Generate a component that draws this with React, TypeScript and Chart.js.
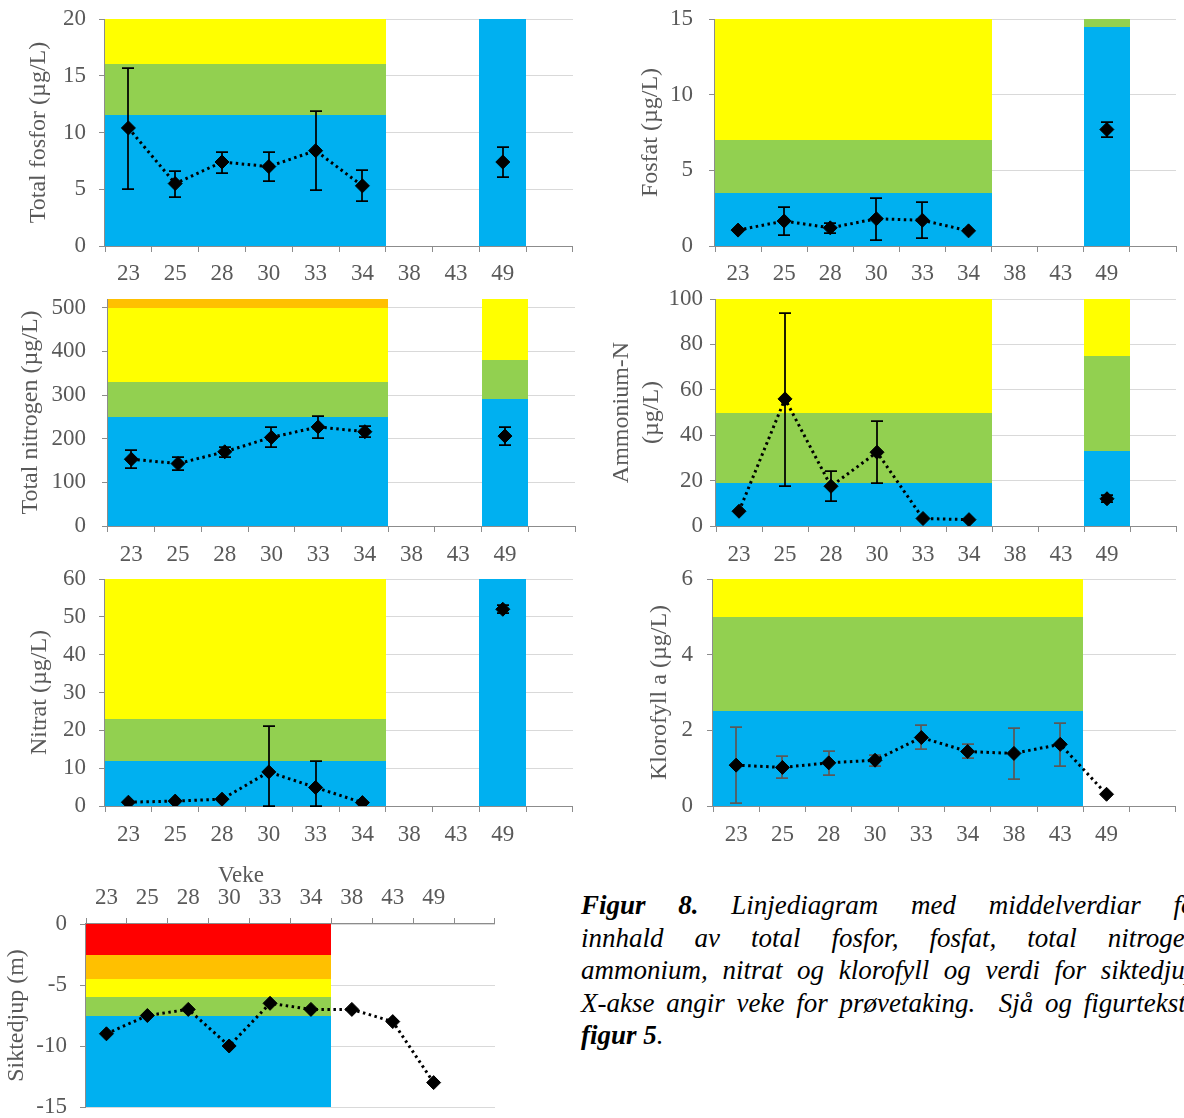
import React, { useEffect, useRef } from "react";
import { Chart, registerables } from "chart.js";

Chart.register(...registerables);

// ---------- data ----------
const weeks = ["23", "25", "28", "30", "33", "34", "38", "43", "49", ""];

const BLUE = "#00B0F0";
const GREEN = "#92D050";
const YELLOW = "#FFFF00";
const ORANGE = "#FFC000";
const RED = "#FF0000";

// Total fosfor (µg/L)
const totPMean = [10.4, 5.5, 7.4, 7.0, 8.4, 5.3, null, null, 7.4, null];
const totPLow = [5.0, 4.35, 6.4, 5.7, 4.9, 3.95, null, null, 6.1, null];
const totPHigh = [15.7, 6.6, 8.3, 8.25, 11.9, 6.7, null, null, 8.7, null];
const totPLimitsMain = [0, 11.5, 16, 20];
const totPLimitsW49 = [0, 20];

// Fosfat (µg/L)
const po4Mean = [1.05, 1.65, 1.2, 1.8, 1.7, 1.0, null, null, 7.7, null];
const po4Low = [null, 0.7, 0.85, 0.42, 0.5, null, null, null, 7.2, null];
const po4High = [null, 2.58, 1.55, 3.18, 2.92, null, null, null, 8.2, null];
const po4LimitsMain = [0, 3.5, 7, 15];
const po4LimitsW49 = [0, 14.5, 15];

// Total nitrogen (µg/L)
const totNMean = [153, 143, 170, 203, 227, 216, null, null, 206, null];
const totNLow = [133, 129, 159, 180, 201, 204, null, null, 186, null];
const totNHigh = [175, 159, 181, 227, 251, 228, null, null, 227, null];
const totNLimitsMain = [0, 250, 330, 500, 520];
const totNLimitsW49 = [0, 290, 380, 520];

// Ammonium-N (µg/L)
const nh4Mean = [6.5, 56, 17.5, 32.5, 3.3, 2.8, null, null, 12, null];
const nh4Low = [null, 17.7, 11, 19, null, null, null, null, 10.5, null];
const nh4High = [null, 94, 24.2, 46.2, null, null, null, null, 13.5, null];
const nh4LimitsMain = [0, 19, 50, 100];
const nh4LimitsW49 = [0, 33, 75, 100];

// Nitrat (µg/L)
const no3Mean = [1.0, 1.3, 1.8, 9.0, 4.9, 0.9, null, null, 52, null];
const no3Low = [null, null, null, 0, 0, null, null, null, 51, null];
const no3High = [null, null, null, 21.2, 11.9, null, null, null, 53, null];
const no3LimitsMain = [0, 12, 23, 60];
const no3LimitsW49 = [0, 60];

// Klorofyll a (µg/L)
const chlMean = [1.08, 1.02, 1.14, 1.21, 1.81, 1.44, 1.39, 1.63, 0.31, null];
const chlLow = [0.09, 0.74, 0.83, 1.07, 1.5, 1.26, 0.72, 1.06, null, null];
const chlHigh = [2.08, 1.33, 1.45, 1.36, 2.14, 1.63, 2.05, 2.2, null, null];
const chlLimits = [0, 2.5, 5, 6];

// Siktedjup (m)
const secchi = [-9, -7.5, -7, -10, -6.5, -7, -7, -8, -13, null];
const secchiLimits = [-15, -7.5, -6, -4.5, -2.5, 0];

// ---------- styling ----------
const FONT = "'Liberation Serif', 'Times New Roman', serif";
const TEXT = "#595959";
const AXIS = "#8C8C8C";
const GRID = "#D9D9D9";

type Band = { first: number; last: number; limits: number[]; colors: string[] };

type Spec = {
  id: string;
  box: { left: number; top: number; width: number; height: number };
  plot: { left: number; top: number; right: number; bottom: number };
  mean: (number | null)[];
  low: (number | null)[] | null;
  high: (number | null)[] | null;
  errColor: string;
  yMin: number;
  yMax: number;
  yStep: number;
  title: string | string[];
  titleCenter: number;
  titleLH: number;
  yLabelGap: number;
  xLabelGap: number;
  bands: Band[];
  xTop: boolean;
};

const specs: Spec[] = [
  {
    id: "totP",
    box: { left: 0, top: 0, width: 590, height: 290 },
    plot: { left: 105, top: 19, right: 573, bottom: 246 },
    mean: totPMean, low: totPLow, high: totPHigh, errColor: "#000",
    yMin: 0, yMax: 20, yStep: 5,
    title: "Total fosfor (µg/L)", titleCenter: 39, titleLH: 1.2,
    yLabelGap: 19, xLabelGap: 8,
    bands: [
      { first: 0, last: 5, limits: totPLimitsMain, colors: [BLUE, GREEN, YELLOW] },
      { first: 8, last: 8, limits: totPLimitsW49, colors: [BLUE] },
    ],
    xTop: false,
  },
  {
    id: "po4",
    box: { left: 590, top: 0, width: 594, height: 290 },
    plot: { left: 715, top: 19, right: 1182, bottom: 246 },
    mean: po4Mean, low: po4Low, high: po4High, errColor: "#000",
    yMin: 0, yMax: 15, yStep: 5,
    title: "Fosfat (µg/L)", titleCenter: 651, titleLH: 1.2,
    yLabelGap: 22, xLabelGap: 8,
    bands: [
      { first: 0, last: 5, limits: po4LimitsMain, colors: [BLUE, GREEN, YELLOW] },
      { first: 8, last: 8, limits: po4LimitsW49, colors: [BLUE, GREEN] },
    ],
    xTop: false,
  },
  {
    id: "totN",
    box: { left: 0, top: 290, width: 590, height: 280 },
    plot: { left: 108, top: 299, right: 575, bottom: 526 },
    mean: totNMean, low: totNLow, high: totNHigh, errColor: "#000",
    yMin: 0, yMax: 520, yStep: 100,
    title: "Total nitrogen (µg/L)", titleCenter: 31, titleLH: 1.2,
    yLabelGap: 22, xLabelGap: 9,
    bands: [
      { first: 0, last: 5, limits: totNLimitsMain, colors: [BLUE, GREEN, YELLOW, ORANGE] },
      { first: 8, last: 8, limits: totNLimitsW49, colors: [BLUE, GREEN, YELLOW] },
    ],
    xTop: false,
  },
  {
    id: "nh4",
    box: { left: 590, top: 290, width: 594, height: 280 },
    plot: { left: 716, top: 299, right: 1182, bottom: 526 },
    mean: nh4Mean, low: nh4Low, high: nh4High, errColor: "#000",
    yMin: 0, yMax: 100, yStep: 20,
    title: ["Ammonium-N", "(µg/L)"], titleCenter: 622, titleLH: 1.25,
    yLabelGap: 13, xLabelGap: 9,
    bands: [
      { first: 0, last: 5, limits: nh4LimitsMain, colors: [BLUE, GREEN, YELLOW] },
      { first: 8, last: 8, limits: nh4LimitsW49, colors: [BLUE, GREEN, YELLOW] },
    ],
    xTop: false,
  },
  {
    id: "no3",
    box: { left: 0, top: 570, width: 590, height: 280 },
    plot: { left: 105, top: 579, right: 573, bottom: 806 },
    mean: no3Mean, low: no3Low, high: no3High, errColor: "#000",
    yMin: 0, yMax: 60, yStep: 10,
    title: "Nitrat (µg/L)", titleCenter: 40, titleLH: 1.2,
    yLabelGap: 19, xLabelGap: 9,
    bands: [
      { first: 0, last: 5, limits: no3LimitsMain, colors: [BLUE, GREEN, YELLOW] },
      { first: 8, last: 8, limits: no3LimitsW49, colors: [BLUE] },
    ],
    xTop: false,
  },
  {
    id: "chl",
    box: { left: 590, top: 570, width: 594, height: 280 },
    plot: { left: 713, top: 579, right: 1180, bottom: 806 },
    mean: chlMean, low: chlLow, high: chlHigh, errColor: "#595959",
    yMin: 0, yMax: 6, yStep: 2,
    title: "Klorofyll a (µg/L)", titleCenter: 660, titleLH: 1.2,
    yLabelGap: 20, xLabelGap: 9,
    bands: [{ first: 0, last: 7, limits: chlLimits, colors: [BLUE, GREEN, YELLOW] }],
    xTop: false,
  },
  {
    id: "secchi",
    box: { left: 0, top: 850, width: 540, height: 290 },
    plot: { left: 86, top: 924, right: 495, bottom: 1107 },
    mean: secchi, low: null, high: null, errColor: "#000",
    yMin: -15, yMax: 0, yStep: 5,
    title: "Siktedjup (m)", titleCenter: 17, titleLH: 1.2,
    yLabelGap: 19, xLabelGap: 6,
    bands: [{ first: 0, last: 5, limits: secchiLimits, colors: [BLUE, GREEN, YELLOW, ORANGE, RED] }],
    xTop: true,
  },
];

function Panel({ spec }: { spec: Spec }) {
  const ref = useRef<HTMLCanvasElement | null>(null);
  const b = spec.box;

  useEffect(() => {
    const s = spec;
    const p = s.plot;
    const yW = p.left - b.left;
    const padRight = b.left + b.width - p.right;
    const padTop = s.xTop ? 0 : p.top - b.top;
    const padBottom = s.xTop ? b.top + b.height - p.bottom : 0;
    const xH = s.xTop ? p.top - b.top : b.top + b.height - p.bottom;
    const titleSize = 24;
    const tickSize = 23;

    const decor = {
      id: "decor",
      beforeDatasetsDraw(chart: any) {
        const { ctx, chartArea: a } = chart;
        const x = chart.scales.x;
        const y = chart.scales.y;
        const half = (x.getPixelForValue(1) - x.getPixelForValue(0)) / 2;
        ctx.save();
        for (const band of s.bands) {
          const x0 = Math.round(x.getPixelForValue(band.first) - half);
          const x1 = Math.round(x.getPixelForValue(band.last) + half);
          for (let i = 0; i < band.colors.length; i++) {
            const yb = Math.round(y.getPixelForValue(band.limits[i]));
            const yt = Math.round(y.getPixelForValue(band.limits[i + 1]));
            ctx.fillStyle = band.colors[i];
            ctx.fillRect(x0, yt, x1 - x0, yb - yt);
          }
        }
        // axis lines
        ctx.strokeStyle = AXIS;
        ctx.lineWidth = 1;
        ctx.beginPath();
        const lx = Math.round(a.left) - 0.5;
        ctx.moveTo(lx, a.top);
        ctx.lineTo(lx, a.bottom);
        const ay = s.xTop ? Math.round(a.top) - 0.5 : Math.round(a.bottom) + 0.5;
        ctx.moveTo(a.left - 1, ay);
        ctx.lineTo(a.right, ay);
        ctx.stroke();
        // error bars
        if (s.low && s.high) {
          ctx.strokeStyle = s.errColor;
          ctx.lineWidth = 1.75;
          ctx.beginPath();
          for (let i = 0; i < s.low.length; i++) {
            const lo = s.low[i];
            const hi = s.high[i];
            if (lo == null || hi == null) continue;
            const px = Math.round(x.getPixelForValue(i));
            const yl = Math.round(y.getPixelForValue(lo));
            const yh = Math.round(y.getPixelForValue(hi));
            ctx.moveTo(px, yl);
            ctx.lineTo(px, yh);
            ctx.moveTo(px - 6, yl);
            ctx.lineTo(px + 6, yl);
            ctx.moveTo(px - 6, yh);
            ctx.lineTo(px + 6, yh);
          }
          ctx.stroke();
        }
        ctx.restore();
      },
    };

    const titleLHpx = titleSize * s.titleLH;
    const chart = new Chart(ref.current as HTMLCanvasElement, {
      type: "line",
      data: {
        labels: weeks,
        datasets: [
          {
            data: s.mean as any,
            borderColor: "#000",
            borderWidth: 3,
            borderDash: [2.5, 3.5],
            borderCapStyle: "butt",
            pointStyle: "rectRot",
            pointRadius: 7,
            pointBackgroundColor: "#000",
            pointBorderColor: "#000",
            pointBorderWidth: 1,
            spanGaps: false,
            tension: 0,
            fill: false,
          },
        ],
      },
      options: {
        responsive: false,
        animation: false,
        events: [],
        layout: { padding: { left: 0, right: padRight, top: padTop, bottom: padBottom } },
        plugins: { legend: { display: false }, tooltip: { enabled: false } },
        scales: {
          x: {
            type: "category",
            position: s.xTop ? "top" : "bottom",
            offset: true,
            border: { display: false },
            grid: {
              display: true,
              offset: true,
              drawOnChartArea: false,
              drawTicks: true,
              tickLength: 6,
              color: AXIS,
              lineWidth: 1,
            },
            ticks: {
              color: TEXT,
              font: { family: FONT, size: tickSize },
              padding: s.xLabelGap,
              maxRotation: 0,
              autoSkip: false,
            },
            title: { display: false },
            afterFit: (sc: any) => {
              sc.height = xH;
              sc.paddingLeft = 0;
              sc.paddingRight = 0;
            },
          },
          y: {
            min: s.yMin,
            max: s.yMax,
            border: { display: false },
            grid: {
              color: GRID,
              lineWidth: 1,
              drawTicks: true,
              tickLength: 6,
              tickColor: AXIS,
            },
            ticks: {
              stepSize: s.yStep,
              includeBounds: false,
              color: TEXT,
              font: { family: FONT, size: tickSize },
              padding: s.yLabelGap - 6,
            },
            title: {
              display: true,
              text: s.title,
              color: TEXT,
              font: { family: FONT, size: titleSize, lineHeight: s.titleLH },
              padding: { top: s.titleCenter - b.left - titleLHpx / 2, bottom: 0 },
            },
            afterFit: (sc: any) => {
              sc.width = yW;
              sc.paddingTop = 0;
              sc.paddingBottom = 0;
            },
          },
        },
      } as any,
      plugins: [decor],
    });
    return () => chart.destroy();
  }, [spec]);

  return (
    <canvas
      ref={ref}
      width={b.width}
      height={b.height}
      style={{ position: "absolute", left: b.left, top: b.top, width: b.width, height: b.height }}
    />
  );
}

const captionLines: { parts: { text: string; bold: boolean }[]; justify: boolean }[] = [
  {
    parts: [
      { text: "Figur 8.", bold: true },
      { text: " Linjediagram med middelverdiar for", bold: false },
    ],
    justify: true,
  },
  { parts: [{ text: "innhald av total fosfor, fosfat, total nitrogen,", bold: false }], justify: true },
  { parts: [{ text: "ammonium, nitrat og klorofyll og verdi for siktedjup.", bold: false }], justify: true },
  { parts: [{ text: "X-akse angir veke for prøvetaking.  Sjå og figurtekst i", bold: false }], justify: true },
  {
    parts: [
      { text: "figur 5", bold: true },
      { text: ".", bold: false },
    ],
    justify: false,
  },
];

export default function App() {
  return (
    <div
      style={{
        position: "fixed",
        left: 0,
        top: 0,
        width: 1184,
        height: 1118,
        overflow: "hidden",
        background: "#fff",
      }}
    >
      {specs.map((s) => (
        <Panel key={s.id} spec={s} />
      ))}
      <div
        style={{
          position: "absolute",
          left: 191,
          top: 861,
          width: 100,
          textAlign: "center",
          fontFamily: FONT,
          fontSize: 23,
          lineHeight: "28px",
          color: TEXT,
        }}
      >
        Veke
      </div>
      <div
        style={{
          position: "absolute",
          left: 581,
          top: 889,
          width: 624,
          fontFamily: FONT,
          fontStyle: "italic",
          fontSize: 27,
          lineHeight: "32.5px",
          color: "#000",
        }}
      >
        {captionLines.map((ln, i) => (
          <div
            key={i}
            style={{
              textAlign: ln.justify ? "justify" : "left",
              textAlignLast: ln.justify ? "justify" : "left",
              whiteSpace: "pre-wrap",
            }}
          >
            {ln.parts.map((pt, j) =>
              pt.bold ? <b key={j}>{pt.text}</b> : <span key={j}>{pt.text}</span>
            )}
          </div>
        ))}
      </div>
    </div>
  );
}
